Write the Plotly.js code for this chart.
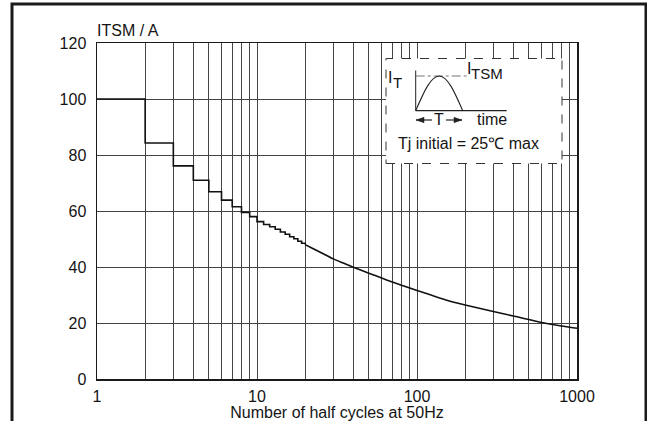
<!DOCTYPE html>
<html>
<head>
<meta charset="utf-8">
<script src="https://cdn.plot.ly/plotly-3.0.1.min.js"></script>
<style>html,body{margin:0;padding:0;background:#fff;}#chart{width:647px;height:421px;}</style>
</head>
<body>
<div id="chart"></div>
<script>
// ---- data ----
var stepCycles = [1,2,3,4,5,6,7,8,9,10,11,12,13,14,15,16,17,18,19,20];
var stepItsm   = [100,84.3,76.1,71.0,66.9,63.9,61.5,59.5,58.0,56.2,55.2,54.4,53.5,52.5,51.7,50.8,50.1,49.2,48.5,48.0];
var curveCycles = [20,22,25,30,35,40,50,70,100,150,200,300,400,600,800,1000];
var curveItsm   = [48.0,46.8,45.2,42.9,41.3,39.9,37.8,34.6,31.6,28.3,26.4,24.1,22.5,20.2,18.9,18.1];
var xGridVals = [1,2,3,4,5,6,7,8,9,10,20,30,40,50,60,70,80,90,100,200,300,400,500,600,700,800,900,1000];
var xLabelVals = [1,10,100,1000];
var yTickVals = [0,20,40,60,80,100,120];

// ---- layout helpers (pixel -> paper) ----
var L = 97, R = 577, T = 43, B = 379;
function X(px){ return (px - L) / (R - L); }
function Y(py){ return (B - py) / (B - T); }
function P(px, py){ return X(px) + ',' + Y(py); }

var font = {family: 'Liberation Sans, Arial, sans-serif', size: 16, color: '#141414'};
var subFont = {family: 'Liberation Sans, Arial, sans-serif', size: 15, color: '#141414'};
var xTickText = xGridVals.map(function(v){ return xLabelVals.indexOf(v) >= 0 ? String(v) : ''; });

var traces = [
  {x: stepCycles, y: stepItsm, mode: 'lines', line: {shape: 'hv', color: '#111', width: 1.6}, hoverinfo: 'skip'},
  {x: curveCycles, y: curveItsm, mode: 'lines', line: {shape: 'spline', smoothing: 0.5, color: '#111', width: 1.6}, hoverinfo: 'skip'}
];

var sine = 'M ' + P(415.7, 110.7) +
  ' C ' + P(423.6, 92.5) + ' ' + P(430.7, 76) + ' ' + P(439.2, 76) +
  ' C ' + P(447.7, 76) + ' ' + P(454.8, 92.5) + ' ' + P(462.7, 110.7);
var headL = 'M ' + P(416, 120) + ' L ' + P(424, 117.3) + ' L ' + P(424, 122.7) + ' Z';
var headR = 'M ' + P(462, 120) + ' L ' + P(454, 117.3) + ' L ' + P(454, 122.7) + ' Z';

var ink = {color: '#222', width: 1.2};
var shapes = [
  // outer frame
  {type: 'rect', xref: 'paper', yref: 'paper', x0: X(12), x1: X(646), y0: Y(430), y1: Y(4), line: {color: '#1a1a1a', width: 3}, layer: 'above'},
  // inset box
  {type: 'rect', xref: 'paper', yref: 'paper', x0: X(386), x1: X(562), y0: Y(163.5), y1: Y(58.5), fillcolor: '#fff', line: {color: '#333', width: 1, dash: 'dash'}, layer: 'above'},
  // pulse axes
  {type: 'line', xref: 'paper', yref: 'paper', x0: X(415.7), x1: X(415.7), y0: Y(110.7), y1: Y(70.5), line: {color: '#222', width: 1}, layer: 'above'},
  {type: 'line', xref: 'paper', yref: 'paper', x0: X(415.7), x1: X(506.7), y0: Y(110.7), y1: Y(110.7), line: ink, layer: 'above'},
  {type: 'line', xref: 'paper', yref: 'paper', x0: X(415.7), x1: X(468), y0: Y(76), y1: Y(76), line: {color: '#777', width: 1, dash: 'dashdot'}, layer: 'above'},
  {type: 'path', xref: 'paper', yref: 'paper', path: sine, line: {color: '#222', width: 1.1}, layer: 'above'},
  // T arrows
  {type: 'line', xref: 'paper', yref: 'paper', x0: X(416), x1: X(432), y0: Y(120), y1: Y(120), line: ink, layer: 'above'},
  {type: 'line', xref: 'paper', yref: 'paper', x0: X(446), x1: X(462), y0: Y(120), y1: Y(120), line: ink, layer: 'above'},
  {type: 'path', xref: 'paper', yref: 'paper', path: headL, fillcolor: '#222', line: {color: '#222', width: 0.5}, layer: 'above'},
  {type: 'path', xref: 'paper', yref: 'paper', path: headR, fillcolor: '#222', line: {color: '#222', width: 0.5}, layer: 'above'}
];

var annotations = [
  {xref: 'paper', yref: 'paper', x: X(95), y: Y(31), xanchor: 'left', yanchor: 'middle', text: 'ITSM / A', showarrow: false, font: font},
  {xref: 'paper', yref: 'paper', x: X(386), y: Y(78), xanchor: 'left', yanchor: 'middle', text: 'I', showarrow: false, font: font},
  {xref: 'paper', yref: 'paper', x: X(391), y: Y(82.5), xanchor: 'left', yanchor: 'middle', text: 'T', showarrow: false, font: subFont},
  {xref: 'paper', yref: 'paper', x: X(465), y: Y(68.5), xanchor: 'left', yanchor: 'middle', text: 'I', showarrow: false, font: font},
  {xref: 'paper', yref: 'paper', x: X(468.5), y: Y(73.5), xanchor: 'left', yanchor: 'middle', text: 'TSM', showarrow: false, font: subFont},
  {xref: 'paper', yref: 'paper', x: X(439), y: Y(120), xanchor: 'center', yanchor: 'middle', text: 'T', showarrow: false, font: font},
  {xref: 'paper', yref: 'paper', x: X(475), y: Y(120), xanchor: 'left', yanchor: 'middle', text: 'time', showarrow: false, font: font},
  {xref: 'paper', yref: 'paper', x: X(468), y: Y(143.5), xanchor: 'center', yanchor: 'middle', text: 'Tj initial = 25\u2103 max', showarrow: false, font: font}
];

var layout = {
  width: 647, height: 421,
  margin: {l: L, r: 647 - R, t: T, b: 421 - B, pad: 0},
  paper_bgcolor: '#fff', plot_bgcolor: '#fff',
  showlegend: false,
  font: font,
  xaxis: {
    type: 'log', range: [0, 3], tickmode: 'array', tickvals: xGridVals, ticktext: xTickText,
    showgrid: true, gridcolor: '#454545', gridwidth: 1,
    showline: true, mirror: true, linecolor: '#1a1a1a', linewidth: 1.5,
    ticks: 'outside', ticklen: 2, tickcolor: 'rgba(0,0,0,0)', zeroline: false,
    tickfont: font,
    title: {text: 'Number of half cycles at 50Hz', font: font, standoff: 0}
  },
  yaxis: {
    range: [0, 120], tickmode: 'array', tickvals: yTickVals,
    showgrid: true, gridcolor: '#454545', gridwidth: 1,
    showline: true, mirror: true, linecolor: '#1a1a1a', linewidth: 1.5,
    ticks: 'outside', ticklen: 6, tickcolor: 'rgba(0,0,0,0)', zeroline: false,
    tickfont: font
  },
  shapes: shapes,
  annotations: annotations
};

Plotly.newPlot('chart', traces, layout, {staticPlot: true, displayModeBar: false});
</script>
</body>
</html>
